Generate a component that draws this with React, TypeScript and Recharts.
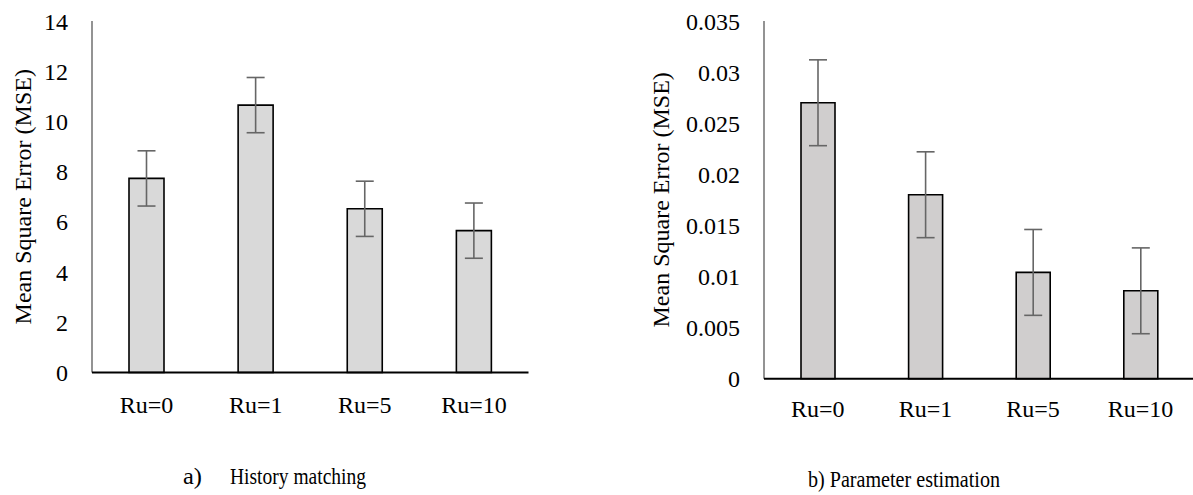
import React from "react";
import { BarChart, Bar, XAxis, YAxis, ErrorBar, Label } from "recharts";

const categories = ["Ru=0", "Ru=1", "Ru=5", "Ru=10"];
const historyMse = [7.73, 10.65, 6.52, 5.65];
const historyErr = [1.1, 1.1, 1.1, 1.1];
const paramMse = [0.0270, 0.0180, 0.0104, 0.0086];
const paramErr = [0.0042, 0.0042, 0.0042, 0.0042];
const historyTicks = [0, 2, 4, 6, 8, 10, 12, 14];
const paramTicks = [0, 0.005, 0.01, 0.015, 0.02, 0.025, 0.03, 0.035];
const yTitle = "Mean Square Error (MSE)";
const captionA1 = "a)";
const captionA2 = "History matching";
const captionB = "b) Parameter estimation";

const historyData = categories.map((c, i) => ({ name: c, v: historyMse[i], err: historyErr[i] }));
const paramData = categories.map((c, i) => ({ name: c, v: paramMse[i], err: paramErr[i] }));

const FONT = "Liberation Serif, Times New Roman, Times, DejaVu Serif, serif";
const FS = 24;
const tickStyle = { fontFamily: FONT, fontSize: FS, fill: "#000" };

function YTitle(offsetX: number) {
  return (props: any) => {
    const vb = props.viewBox || {};
    const cx = vb.x + offsetX;
    const cy = vb.y + vb.height / 2;
    return (
      <text
        x={cx}
        y={cy}
        transform={`rotate(-90, ${cx}, ${cy})`}
        textAnchor="middle"
        dominantBaseline="central"
        fontFamily={FONT}
        fontSize={FS}
        fill="#000"
      >
        {yTitle}
      </text>
    );
  };
}

export default function App() {
  return (
    <div style={{ position: "absolute", left: 0, top: 0, width: 1193, height: 495, overflow: "hidden", background: "#fff", fontFamily: FONT }}>
      <div style={{ position: "absolute", left: 0, top: 0 }}>
        <BarChart width={540} height={440} data={historyData} margin={{ top: 21, right: 11.5, bottom: 27.5, left: 0 }}>
          <XAxis xAxisId="top" orientation="top" dataKey="name" height={0} tick={false} tickLine={false} axisLine={{ stroke: "#595959", strokeWidth: 1.3 }} />
          <YAxis yAxisId="right" orientation="right" width={0} tick={false} tickLine={false} axisLine={{ stroke: "#595959", strokeWidth: 1.3 }} />
          <YAxis
            domain={[0, 14]}
            ticks={historyTicks}
            width={92}
            tickLine={false}
            tickSize={0}
            tickMargin={24}
            tick={tickStyle}
            axisLine={{ stroke: "#595959", strokeWidth: 1.3 }}
          >
            <Label content={YTitle(23)} />
          </YAxis>
          <XAxis
            dataKey="name"
            height={40}
            tickLine={false}
            tickSize={0}
            tickMargin={23}
            tick={tickStyle}
            axisLine={{ stroke: "#000", strokeWidth: 2 }}
            interval={0}
          />
          <Bar dataKey="v" fill="#d9d9d9" stroke="#000" strokeWidth={1.6} barSize={35} isAnimationActive={false}>
            <ErrorBar dataKey="err" width={9} stroke="#666666" strokeWidth={1.6} direction="y" />
          </Bar>
        </BarChart>
      </div>
      <div style={{ position: "absolute", left: 600, top: 0 }}>
        <BarChart width={600} height={440} data={paramData} margin={{ top: 21, right: 5.6, bottom: 21.3, left: 0 }}>
          <XAxis xAxisId="top" orientation="top" dataKey="name" height={0} tick={false} tickLine={false} axisLine={{ stroke: "#595959", strokeWidth: 1.3 }} />
          <YAxis yAxisId="right" orientation="right" width={0} tick={false} tickLine={false} axisLine={{ stroke: "#595959", strokeWidth: 1.3 }} />
          <YAxis
            domain={[0, 0.035]}
            ticks={paramTicks}
            width={164}
            tickLine={false}
            tickSize={0}
            tickMargin={24}
            tick={tickStyle}
            axisLine={{ stroke: "#595959", strokeWidth: 1.3 }}
          >
            <Label content={YTitle(61)} />
          </YAxis>
          <XAxis
            dataKey="name"
            height={40}
            tickLine={false}
            tickSize={0}
            tickMargin={21}
            tick={tickStyle}
            axisLine={{ stroke: "#000", strokeWidth: 2 }}
            interval={0}
          />
          <Bar dataKey="v" fill="#d0cece" stroke="#000" strokeWidth={1.6} barSize={34} isAnimationActive={false}>
            <ErrorBar dataKey="err" width={9} stroke="#666666" strokeWidth={1.6} direction="y" />
          </Bar>
        </BarChart>
      </div>
      <svg width={1193} height={495} style={{ position: "absolute", left: 0, top: 0, pointerEvents: "none" }}>
        <text x={183} y={484} fontFamily={FONT} fontSize={FS} fill="#000" textLength={19} lengthAdjust="spacingAndGlyphs">{captionA1}</text>
        <text x={230} y={484} fontFamily={FONT} fontSize={FS} fill="#000" textLength={136} lengthAdjust="spacingAndGlyphs">{captionA2}</text>
        <text x={808} y={487} fontFamily={FONT} fontSize={FS} fill="#000" textLength={192} lengthAdjust="spacingAndGlyphs">{captionB}</text>
      </svg>
    </div>
  );
}
